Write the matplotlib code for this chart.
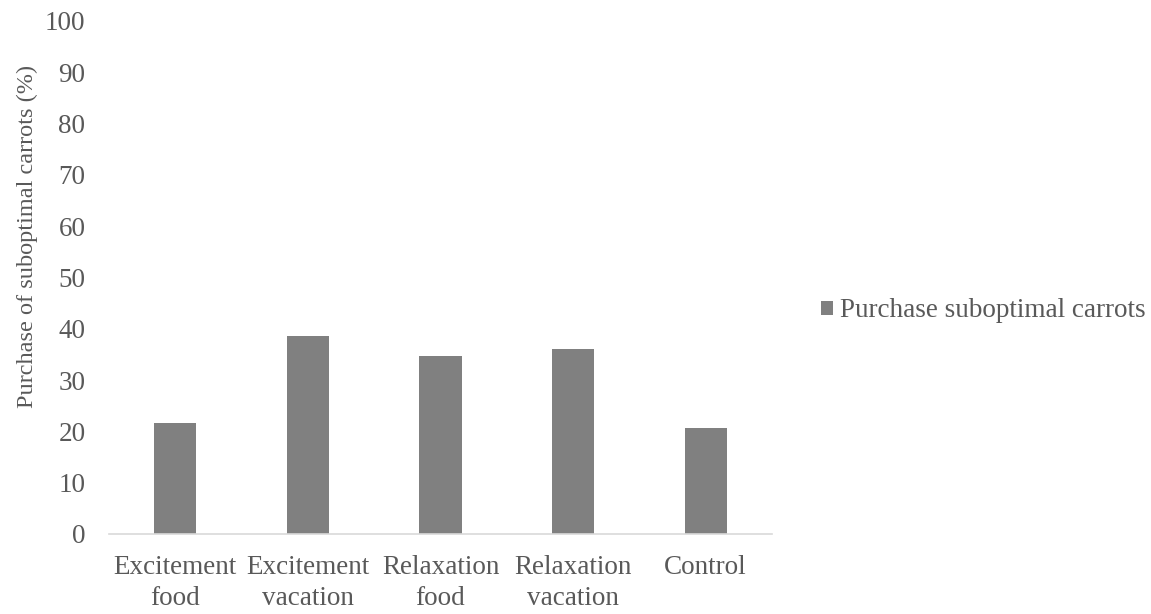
from matplotlib import pyplot as plt
import numpy as np

# Purchase of suboptimal carrots by condition
plt.rcParams['font.family'] = ['Liberation Serif', 'DejaVu Serif']

conditions = ['Excitement\nfood', 'Excitement\nvacation', 'Relaxation\nfood',
              'Relaxation\nvacation', 'Control']
purchase_pct = [21.6, 38.5, 34.7, 36.0, 20.7]
y_ticks = list(range(0, 101, 10))

text_color = '#595959'
bar_color = '#808080'
fs = 19.5

fig = plt.figure(figsize=(11.51, 6.14), dpi=100)
ax = fig.add_axes([0.0947, 0.1303, 0.576, 0.8355])

x = np.arange(len(conditions))
ax.bar(x, purchase_pct, width=0.317, color=bar_color,
       label='Purchase suboptimal carrots')

ax.set_xlim(-0.5, len(conditions) - 0.5)
ax.set_ylim(0, 100)
ax.set_yticks(y_ticks)
ax.set_xticks(x)
ax.set_xticklabels(conditions, linespacing=1.32)

for side in ['top', 'right', 'left']:
    ax.spines[side].set_visible(False)
ax.spines['bottom'].set_color('#d9d9d9')
ax.spines['bottom'].set_linewidth(1.2)

ax.tick_params(axis='both', length=0, labelsize=fs, labelcolor=text_color)
ax.tick_params(axis='y', pad=17)
ax.tick_params(axis='x', pad=15)

ax.set_ylabel('Purchase of suboptimal carrots (%)', fontsize=17.5, color=text_color)
ax.yaxis.set_label_coords(-0.107, 0.58)

fig.legend(loc='center left', bbox_to_anchor=(0.7133, 0.4935), frameon=False,
           fontsize=fs, labelcolor=text_color, handlelength=0.45,
           handleheight=0.45, handletextpad=0.26, borderpad=0,
           borderaxespad=0)

fig.savefig('out.png', dpi=100)
